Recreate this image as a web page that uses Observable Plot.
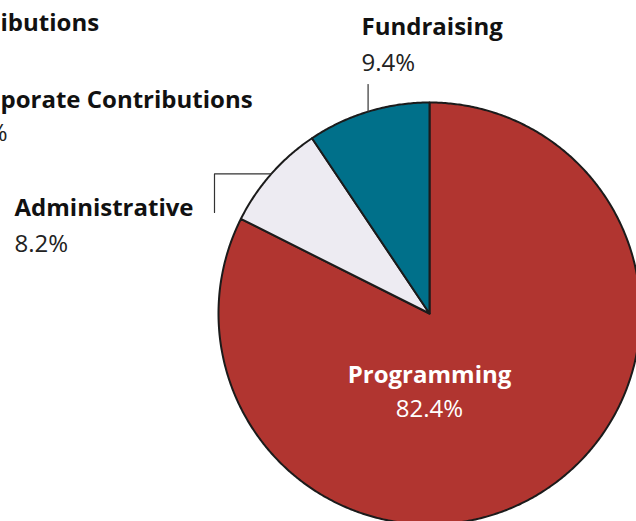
<!DOCTYPE html>
<html><head><meta charset="utf-8">
<script src="https://cdn.jsdelivr.net/npm/d3@7"></script>
<script src="https://cdn.jsdelivr.net/npm/@observablehq/plot@0.6"></script>
<style>body{margin:0;background:#fff;overflow:hidden} #chart svg{display:block}</style>
</head><body><div id="chart"></div>
<script>
// ---- data ----
const categories = ["Programming", "Administrative", "Fundraising"];
const shares = [82.4, 8.2, 9.4];
const valueLabels = ["82.4%", "8.2%", "9.4%"];
const sliceColors = ["#B13530", "#EDEBF2", "#00708A"];
// clipped labels from a neighbouring chart at the left edge
const neighbourLabels = ["ibutions", "porate Contributions", "%"];

// ---- layout ----
const W = 636, H = 521;
const cx = 429, cy = 313, R = 211;
const FONT = "'Open Sans', Lato, sans-serif";
const FS = 24;

const pie = d3.pie().sort(null).value(d => d)(shares);
const pt = (a, r) => [cx + r * Math.sin(a), cy - r * Math.cos(a)];

const slicePts = [];
pie.forEach((p, i) => {
  const n = Math.max(8, Math.ceil((p.endAngle - p.startAngle) * 120));
  const c = pt(0, 0);
  slicePts.push({cat: categories[i], x: c[0], y: c[1]});
  for (let k = 0; k <= n; k++) {
    const a = p.startAngle + (p.endAngle - p.startAngle) * k / n;
    const q = pt(a, R);
    slicePts.push({cat: categories[i], x: q[0], y: q[1]});
  }
});

// leader lines: start at mid-angle on rim
const mid = i => (pie[i].startAngle + pie[i].endAngle) / 2;
const fr = pt(mid(2), R), ad = pt(mid(1), R);
const leaders = [
  {id: "f", x: fr[0], y: fr[1]}, {id: "f", x: fr[0], y: 84},
  {id: "a", x: ad[0], y: ad[1]}, {id: "a", x: 214, y: ad[1]}, {id: "a", x: 214, y: 212}
];

// text baselines
const names = [
  {t: categories[0], x: 429, y: 382, a: "middle", fill: "#fff"},
  {t: categories[1], x: 14, y: 215, a: "start", fill: "#111"},
  {t: categories[2], x: 361, y: 34, a: "start", fill: "#111"},
  {t: neighbourLabels[0], x: 0, y: 30, a: "start", fill: "#111"},
  {t: neighbourLabels[1], x: 0, y: 107, a: "start", fill: "#111"}
];
const values = [
  {t: valueLabels[0], x: 429, y: 416, a: "middle", fill: "#fff"},
  {t: valueLabels[1], x: 14, y: 251, a: "start", fill: "#222"},
  {t: valueLabels[2], x: 361, y: 70, a: "start", fill: "#222"},
  {t: neighbourLabels[2], x: 7, y: 140, a: "end", fill: "#222"}
];
const off = 0.32 * FS;

const marks = [];
categories.forEach((c, i) => {
  marks.push(Plot.line(slicePts.filter(d => d.cat === c), {
    x: "x", y: "y", curve: "linear-closed", fill: sliceColors[i],
    stroke: "#1b1b1b", strokeWidth: 2, strokeLinejoin: "round"
  }));
});
marks.push(Plot.line(leaders, {x: "x", y: "y", z: "id", stroke: "#333", strokeWidth: 1.2}));
for (const a of ["start", "middle", "end"]) {
  marks.push(Plot.text(names.filter(d => d.a === a), {
    x: "x", y: d => d.y - off, text: "t", textAnchor: a, fill: "fill",
    fontSize: FS, fontWeight: "bold", fontFamily: FONT
  }));
  marks.push(Plot.text(values.filter(d => d.a === a), {
    x: "x", y: d => d.y - off, text: "t", textAnchor: a, fill: "fill",
    fontSize: FS, fontFamily: FONT
  }));
}

const chart = Plot.plot({
  width: W, height: H, margin: 0,
  x: {domain: [0, W], range: [0, W], axis: null},
  y: {domain: [0, H], range: [0, H], axis: null},
  style: {background: "#fff", overflow: "hidden"},
  marks
});
document.getElementById("chart").append(chart);
</script>
</body></html>
